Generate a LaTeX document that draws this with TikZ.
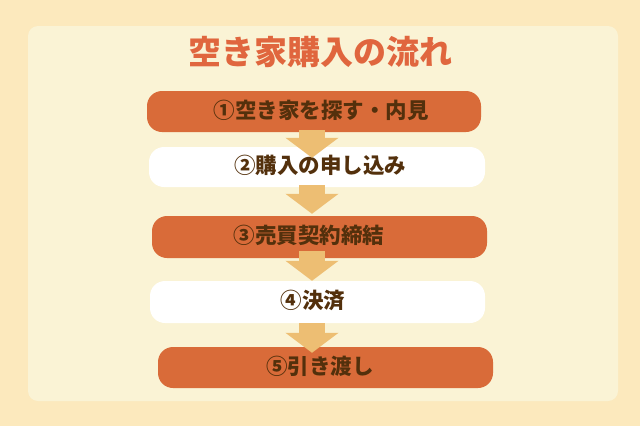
\documentclass[tikz,border=0pt]{standalone}
\usepackage{fontspec}
\newfontfamily\jp{Noto Sans CJK JP}
\usetikzlibrary{arrows.meta}
\definecolor{outerbg}{HTML}{FCE9BD}
\definecolor{panelbg}{HTML}{FAF3D5}
\definecolor{orng}{HTML}{D96B39}
\definecolor{arrowc}{HTML}{EDBE73}
\definecolor{txtc}{HTML}{53300C}
\definecolor{titlec}{HTML}{E0663E}
\tikzset{
  stepbox/.style={rectangle, rounded corners=15pt, minimum width=335pt, inner sep=0pt, draw=none},
  hotbox/.style={stepbox, fill=orng},
  coolbox/.style={stepbox, fill=white},
  steptext/.style={font=\jp\bfseries\fontsize{21.5}{24}\selectfont, text=txtc, inner sep=0pt, text height=1.3em, text depth=0pt},
  titletext/.style={font=\jp\bfseries\fontsize{33}{36}\selectfont, text=titlec, inner sep=0pt, text height=1.6em, text depth=0pt},
  blockarr/.style={draw=arrowc, line width=26pt, -{Triangle[width=52pt,length=20pt]}}
}
\begin{document}
\begin{tikzpicture}[x=1pt,y=-1pt]
\useasboundingbox (0,0) rectangle (640,426);
\fill[outerbg] (0,0) rectangle (640,426);
\fill[panelbg, rounded corners=10pt] (28,26) rectangle (618,401);
\node[titletext] (title) at (320,56) {空き家購入の流れ};
\node[hotbox, minimum width=334pt, minimum height=41pt] (b1) at (314,111.5) {};
\node[coolbox, minimum width=336pt, minimum height=40pt] (b2) at (317,167) {};
\node[hotbox, minimum height=42pt] (b3) at (319.5,237) {};
\node[coolbox, minimum height=42pt] (b4) at (317.5,302) {};
\node[hotbox, minimum height=41pt] (b5) at (325.5,367.5) {};
\node[steptext] (l1) at (321,111.5) {①空き家を探す・内見};
\node[steptext] (l2) at (320,167) {②購入の申し込み};
\node[steptext] (l3) at (309,237) {③売買契約締結};
\node[steptext] (l4) at (313,302) {④決済};
\node[steptext] (l5) at (320,367.5) {⑤引き渡し};
\draw[blockarr] ([xshift=-2pt,yshift=2pt]b1.south) -- ([xshift=-5pt,yshift=-11pt]b2.north);
\draw[blockarr] ([xshift=-5pt,yshift=2pt]b2.south) -- ([xshift=-7.5pt,yshift=2pt]b3.north);
\draw[blockarr] ([xshift=-7.5pt,yshift=7pt]b3.south) -- ([xshift=-5.5pt,yshift=0pt]b4.north);
\draw[blockarr] ([xshift=-5.5pt,yshift=0pt]b4.south) -- ([xshift=-13.5pt,yshift=-6pt]b5.north);
\end{tikzpicture}
\end{document}
